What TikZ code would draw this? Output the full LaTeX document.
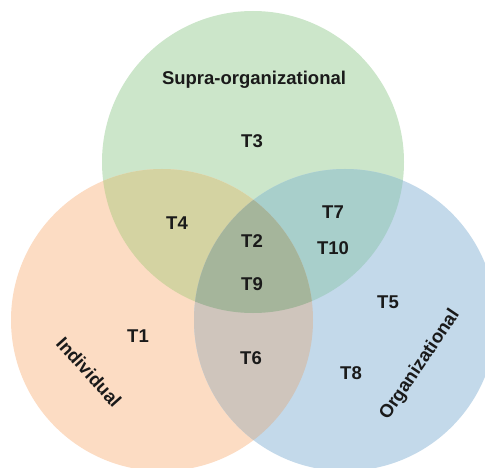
\documentclass[tikz,border=0pt]{standalone}
\usepackage{fontspec}
\setmainfont{Liberation Sans}
\definecolor{cg}{HTML}{CCE6CA}
\definecolor{co}{HTML}{FCDCC3}
\definecolor{cb}{HTML}{C3D9EA}
\definecolor{cgo}{HTML}{D4D3A2}
\definecolor{cgb}{HTML}{A8CFCB}
\definecolor{cob}{HTML}{CFC5BC}
\definecolor{call}{HTML}{A5B59B}
\definecolor{txt}{HTML}{1A1A1A}
\begin{document}
\begin{tikzpicture}[x=1pt,y=-1pt,
  lab/.style={font=\bfseries\fontsize{18.5}{18.5}\selectfont, text=txt, inner sep=0pt}]
\useasboundingbox (0,0) rectangle (485,468);
\clip (0,0) rectangle (485,468);
\coordinate (G) at (253,162);
\coordinate (O) at (162,320);
\coordinate (B) at (345,320);
\fill[cg] (G) circle[radius=151pt];
\fill[co] (O) circle[radius=151pt];
\fill[cb] (B) circle[radius=151pt];
\begin{scope}
  \clip (G) circle[radius=151pt];
  \fill[cgo] (O) circle[radius=151pt];
  \fill[cgb] (B) circle[radius=151pt];
\end{scope}
\begin{scope}
  \clip (O) circle[radius=151pt];
  \fill[cob] (B) circle[radius=151pt];
\end{scope}
\begin{scope}
  \clip (G) circle[radius=151pt];
  \clip (O) circle[radius=151pt];
  \fill[call] (B) circle[radius=151pt];
\end{scope}
\node[lab] (supra) at (254,80) {Supra-organizational};
\node[lab] (t3) at (252,141) {T3};
\node[lab] (t4) at (177,223) {T4};
\node[lab] (t2) at (252,241) {T2};
\node[lab] (t9) at (252,284) {T9};
\node[lab] (t7) at (333,212) {T7};
\node[lab] (t10) at (333,248) {T10};
\node[lab] (t5) at (388,302) {T5};
\node[lab] (t1) at (138,336) {T1};
\node[lab] (t6) at (251,358) {T6};
\node[lab] (t8) at (351,373) {T8};
\node[lab, rotate=-48] (ind) at (89,372) {Individual};
\node[lab, rotate=56] (org) at (420,365) {Organizational};
\end{tikzpicture}
\end{document}
